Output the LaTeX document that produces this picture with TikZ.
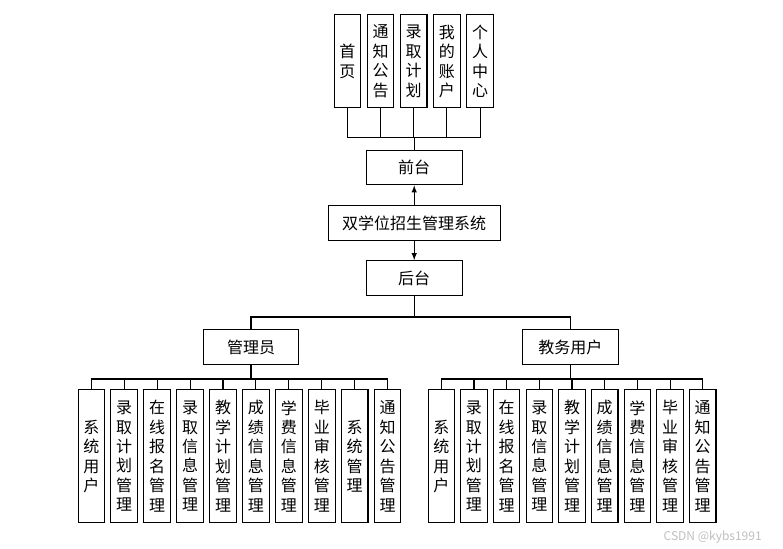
\documentclass[tikz,border=0pt]{standalone}
\usepackage{fontspec}
\setmainfont{Noto Sans CJK SC}
\tikzset{
  box/.style={draw,line width=0.8pt,inner sep=0pt,align=center,font=\fontsize{12}{14.6}\selectfont},
  vbox/.style={box,minimum width=19.9pt},
  hbox/.style={box,minimum height=26pt},
  link/.style={line width=0.8pt},
}
\begin{document}
\begin{tikzpicture}[x=0.75pt,y=-0.75pt]
  \useasboundingbox (0,0) rectangle (783,549);
  % front end
  \foreach \t [count=\i] in {{首\\页},{通\\知\\公\\告},{录\\取\\计\\划},{我\\的\\账\\户},{个\\人\\中\\心}}
    \node[vbox,minimum height=69.5pt] (top\i) at ({347.3+33.2*(\i-1)},61.3) {\t};
  \node[hbox,minimum width=72.2pt] (front) at (414.2,167.5) {前台};
  \coordinate (topbus) at (414.2,137.7);
  \foreach \i in {1,...,5}
    \draw[link] (top\i.south) |- (topbus);
  \draw[link] (topbus) -- (front.north);
  % system
  \node[hbox,minimum width=128.8pt] (sys) at (414.2,222.9) {双学位招生管理系统};
  \node[hbox,minimum width=71.8pt] (back) at (414.2,278) {后台};
  \draw[link,->,>=latex] (sys.north) -- (front.south);
  \draw[link,->,>=latex] (sys.south) -- (back.north);
  % back end
  \node[hbox,minimum width=71.5pt] (admin) at (251,347.3) {管理员};
  \node[hbox,minimum width=72pt] (teacher) at (570.3,347.3) {教务用户};
  \coordinate (backbus) at (414.2,317);
  \draw[link] (back.south) -- (backbus);
  \draw[link] (backbus) -| (admin.north);
  \draw[link] (backbus) -| (teacher.north);
  % admin modules
  \coordinate (adminbus) at (251,379);
  \draw[link] (admin.south) -- (adminbus);
  \foreach \t [count=\i] in {{系\\统\\用\\户},{录\\取\\计\\划\\管\\理},{在\\线\\报\\名\\管\\理},{录\\取\\信\\息\\管\\理},{教\\学\\计\\划\\管\\理},{成\\绩\\信\\息\\管\\理},{学\\费\\信\\息\\管\\理},{毕\\业\\审\\核\\管\\理},{系\\统\\管\\理},{通\\知\\公\\告\\管\\理}}{
    \node[vbox,minimum height=99.5pt] (a\i) at ({91.3+32.93*(\i-1)},456.3) {\t};
    \draw[link] (adminbus) -| (a\i.north);
  }
  % teacher modules
  \coordinate (teacherbus) at (570.3,379);
  \draw[link] (teacher.south) -- (teacherbus);
  \foreach \t [count=\i] in {{系\\统\\用\\户},{录\\取\\计\\划\\管\\理},{在\\线\\报\\名\\管\\理},{录\\取\\信\\息\\管\\理},{教\\学\\计\\划\\管\\理},{成\\绩\\信\\息\\管\\理},{学\\费\\信\\息\\管\\理},{毕\\业\\审\\核\\管\\理},{通\\知\\公\\告\\管\\理}}{
    \node[vbox,minimum height=99.5pt] (b\i) at ({441.3+32.68*(\i-1)},456.3) {\t};
    \draw[link] (teacherbus) -| (b\i.north);
  }
  \node[anchor=west,text=black!25,font=\fontsize{9}{10}\selectfont] (mark) at (659,537) {CSDN @kybs1991};
\end{tikzpicture}
\end{document}
